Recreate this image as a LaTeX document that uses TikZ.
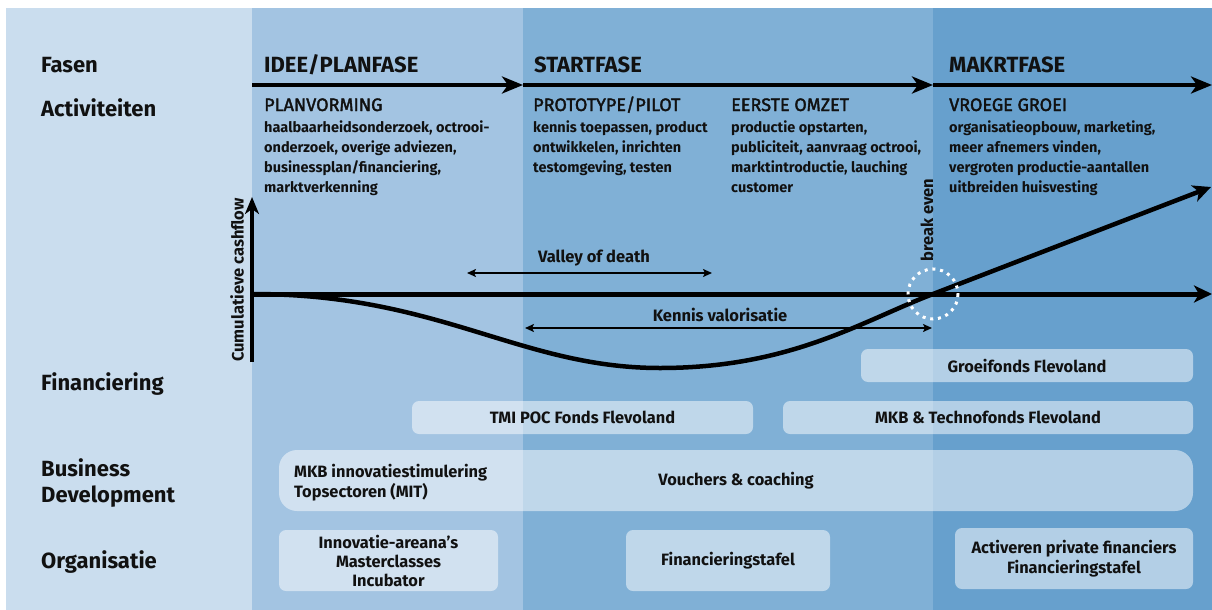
\documentclass[tikz,border=0pt]{standalone}
\usepackage{fontspec}
\setmainfont{Fira Sans}
\newfontfamily\fsemi{Fira Sans}[UprightFont={* Bold}]
\newfontfamily\fmed{Fira Sans}[FakeBold=2]
\newfontfamily\fbold{Fira Sans}[UprightFont={* Bold}]
\usetikzlibrary{arrows.meta}
\definecolor{colA}{HTML}{CADDEE}
\definecolor{colB}{HTML}{A3C4E2}
\definecolor{colC}{HTML}{80B0D6}
\definecolor{colD}{HTML}{67A0CD}
\definecolor{ink}{HTML}{111111}
\tikzset{
  hdr/.style={font=\fbold\fontsize{22}{26}\selectfont, anchor=base west, inner sep=0pt, text=ink},
  subttl/.style={font=\fmed\fontsize{18}{20}\selectfont, anchor=base west, inner sep=0pt, text=ink},
  bodytxt/.style={font=\fsemi\fontsize{14.5}{20.3}\selectfont, anchor=base west, inner sep=0pt, align=left, text=ink},
  lbl/.style={font=\fbold\fontsize{16.5}{19}\selectfont, inner sep=0pt, text=ink},
  boxtxt/.style={font=\fsemi\fontsize{16.4}{20}\selectfont, text=ink},
  pbox/.style={boxtxt, fill=white, fill opacity=0.5, text opacity=1, rounded corners=7pt, inner sep=0pt, align=center},
  bigarr/.style={line width=4.5pt, -{Stealth[length=21pt,width=17pt,inset=6pt]}},
  axarr/.style={line width=5pt, -{Stealth[length=18pt,width=17pt,inset=5pt]}},
  smallarr/.style={line width=2pt, {Stealth[length=9pt,width=8pt,inset=2pt]}-{Stealth[length=9pt,width=8pt,inset=2pt]}},
}
\begin{document}
\begin{tikzpicture}[x=1pt,y=-1pt]
\useasboundingbox (0,0) rectangle (1212,610);
\fill[white] (0,0) rectangle (1212,610);
\fill[colA] (6,8) rectangle (252,610);
\fill[colB] (252,8) rectangle (523,610);
\fill[colC] (523,8) rectangle (933,610);
\fill[colD] (933,8) rectangle (1212,610);

% row headers
\node[hdr] (fasen) at (41,72) {Fasen};
\node[hdr] (activ) at (41,116) {Activiteiten};
\node[hdr] (finan) at (41,390) {Financiering};
\node[hdr] (busdev) at (41,476) {Business};
\node[hdr] (busdev2) at (41,502) {Development};
\node[hdr] (organ) at (41,568) {Organisatie};

% phase titles
\node[hdr] (ph1) at (264,72) {IDEE/PLANFASE};
\node[hdr] (ph2) at (534,72) {STARTFASE};
\node[hdr] (ph3) at (949,72) {MAKRTFASE};

% phase arrows
\coordinate (a0) at (252,85);
\coordinate (a1) at (523,85);
\coordinate (a2) at (933,85);
\coordinate (a3) at (1212,85);
\draw[bigarr] (a0) -- (a1);
\draw[bigarr] (a1) -- (a2);
\draw[bigarr] (a2) -- (a3);

% activities
\node[subttl] (s1) at (264,111) {PLANVORMING};
\node[subttl] (s2) at (533,111) {PROTOTYPE/PILOT};
\node[subttl] (s3) at (731,111) {EERSTE OMZET};
\node[subttl] (s4) at (949,111) {VROEGE GROEI};
\node[bodytxt] (b1) at (264,192.9) {haalbaarheidsonderzoek, octrooi-\\onderzoek, overige adviezen,\\businessplan/financiering,\\marktverkenning};
\node[bodytxt] (b2) at (533,172.6) {kennis toepassen, product\\ontwikkelen, inrichten\\testomgeving, testen};
\node[bodytxt] (b3) at (731,192.9) {productie opstarten,\\publiciteit, aanvraag octrooi,\\marktintroductie, lauching\\customer};
\node[bodytxt] (b4) at (949,192.9) {organisatieopbouw, marketing,\\meer afnemers vinden,\\vergroten productie-aantallen\\uitbreiden huisvesting};

% cashflow axes
\coordinate (origin) at (252,294);
\coordinate (ytop) at (252,197);
\coordinate (ybot) at (252,362);
\coordinate (xend) at (1212,294);
\coordinate (bep) at (933,294);
\coordinate (cend) at (1211,187);
\draw[line width=3.5pt, -{Stealth[length=17pt,width=14pt,inset=5pt]}] (ybot) -- (ytop);
\node[lbl, rotate=90, anchor=west] (cumlbl) at (237,362) {Cumulatieve cashflow};
\draw[axarr] (origin) -- (xend);
\draw[line width=4.5pt, -{Stealth[length=18pt,width=17pt,inset=5pt]}]
  (origin) .. controls (440,294) and (520,368) .. (660,368)
  .. controls (790,368) and (860,322) .. (bep) -- (cend);

% break even
\draw[white, line width=3pt, dash pattern=on 3pt off 4.8pt] (bep) circle[radius=25];
\node[lbl, rotate=90, anchor=west] (belbl) at (927,262) {break even};

% valley of death
\coordinate (v1) at (467,273);
\coordinate (v2) at (712,273);
\draw[smallarr] (v1) -- (v2);
\node[lbl] (vlbl) at (594,258) {Valley of death};
\coordinate (k1) at (525,328);
\coordinate (k2) at (932,328);
\draw[smallarr] (k1) -- (k2);
\node[lbl] (klbl) at (720,315) {Kennis valorisatie};

% financiering boxes
\node[pbox, minimum width=332pt, minimum height=33pt] (groei) at (1027,365.5) {Groeifonds Flevoland};
\node[pbox, minimum width=341pt, minimum height=33pt] (tmi) at (582.5,417.5) {TMI POC Fonds Flevoland};
\node[pbox, minimum width=410pt, minimum height=33pt] (mkbt) at (988,417.5) {MKB \& Technofonds Flevoland};

% business development
\node[pbox, rounded corners=18pt, minimum width=914pt, minimum height=61pt] (vouch) at (736,480.5) {Vouchers \& coaching};
\node[boxtxt, anchor=base west, inner sep=0pt, align=left] (mit) at (294,497) {MKB innovatiestimulering\\Topsectoren (MIT)};

% organisatie
\node[pbox, minimum width=219pt, minimum height=61pt] (org1) at (388.5,560.5) {Innovatie-areana’s\\[-1pt]Masterclasses\\[-1pt]Incubator};
\node[pbox, minimum width=204pt, minimum height=61pt] (org2) at (728,560.5) {Financieringstafel};
\node[pbox, minimum width=238pt, minimum height=61pt] (org3) at (1074,558.5) {Activeren private financiers\\Financieringstafel};
\end{tikzpicture}
\end{document}
